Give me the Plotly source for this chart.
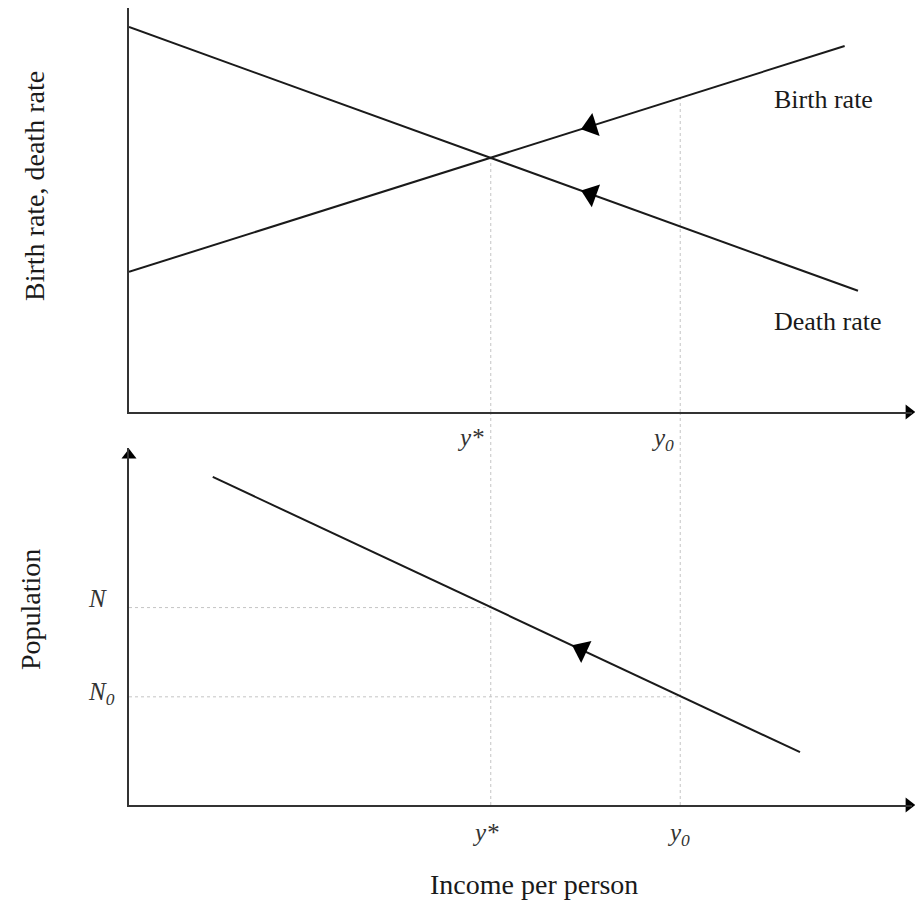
import math
import numpy as np
import plotly.graph_objects as go

# ---- data (arbitrary units) ----
death_x = [0, 93.1]
death_y = [95.3, 30.0]
birth_x = [0, 91.4]
birth_y = [34.7, 90.6]
pop_x = [10.7, 85.7]
pop_y = [91.9, 14.8]

y_star = 46.2      # equilibrium income
y_0 = 70.4         # initial income
N_star = 55.3      # equilibrium population
N_0 = 30.3         # initial population
arrow_top_x = 59.0
arrow_bot_x = 57.8

W, H = 915, 902
FONT = "Liberation Serif"
INK = "#1a1a1a"
GRID = "#c4c4c4"

# pixel layout
X0, X1 = 129, 912
TOP0, TOP1 = 412, 8
BOT0, BOT1 = 805, 448

def px(x):
    return x / W

def py(y):
    return 1 - y / H

XS = (X1 - X0) / 100.0
YS_TOP = (TOP0 - TOP1) / 100.0
YS_BOT = (BOT0 - BOT1) / 100.0

fig = go.Figure()

fig.add_trace(go.Scatter(x=death_x, y=death_y, mode="lines", xaxis="x", yaxis="y",
                         line=dict(color=INK, width=2), hoverinfo="skip"))
fig.add_trace(go.Scatter(x=birth_x, y=birth_y, mode="lines", xaxis="x", yaxis="y",
                         line=dict(color=INK, width=2), hoverinfo="skip"))
fig.add_trace(go.Scatter(x=pop_x, y=pop_y, mode="lines", xaxis="x2", yaxis="y2",
                         line=dict(color=INK, width=2), hoverinfo="skip"))


def line_arrow(xs, ys, xa, yscale, xaxis, yaxis):
    slope = (ys[1] - ys[0]) / (xs[1] - xs[0]) * yscale / XS
    ang = -math.degrees(math.atan(slope))
    return go.Scatter(x=[xa], y=[float(np.interp(xa, xs, ys))], mode="markers",
                      xaxis=xaxis, yaxis=yaxis, hoverinfo="skip", cliponaxis=False,
                      marker=dict(symbol="triangle-left", size=21, angle=ang, color="black",
                                  line=dict(width=0)))

fig.add_trace(line_arrow(birth_x, birth_y, arrow_top_x, YS_TOP, "x", "y"))
fig.add_trace(line_arrow(death_x, death_y, arrow_top_x, YS_TOP, "x", "y"))
fig.add_trace(line_arrow(pop_x, pop_y, arrow_bot_x, YS_BOT, "x2", "y2"))

# axis arrowheads
fig.add_trace(go.Scatter(x=[99.6], y=[0], mode="markers", xaxis="x", yaxis="y", cliponaxis=False,
                         hoverinfo="skip", marker=dict(symbol="triangle-right", size=13, color="black")))
fig.add_trace(go.Scatter(x=[99.6], y=[0], mode="markers", xaxis="x2", yaxis="y2", cliponaxis=False,
                         hoverinfo="skip", marker=dict(symbol="triangle-right", size=13, color="black")))
fig.add_trace(go.Scatter(x=[0], y=[98.0], mode="markers", xaxis="x2", yaxis="y2", cliponaxis=False,
                         hoverinfo="skip", marker=dict(symbol="triangle-up", size=13, color="black")))

y_int = float(np.interp(y_star, birth_x, birth_y))
y_birth0 = float(np.interp(y_0, birth_x, birth_y))

gl = dict(color=GRID, width=1, dash="dot")
shapes = [
    dict(type="line", xref="x", yref="y", x0=y_star, x1=y_star, y0=0, y1=y_int, line=gl, layer="below"),
    dict(type="line", xref="x", yref="y", x0=y_0, x1=y_0, y0=0, y1=y_birth0, line=gl, layer="below"),
    dict(type="line", xref="x2", yref="paper", x0=y_star, x1=y_star, y0=py(BOT0), y1=py(TOP0), line=gl, layer="below"),
    dict(type="line", xref="x2", yref="paper", x0=y_0, x1=y_0, y0=py(BOT0), y1=py(TOP0), line=gl, layer="below"),
    dict(type="line", xref="x2", yref="y2", x0=0, x1=y_star, y0=N_star, y1=N_star, line=gl, layer="below"),
    dict(type="line", xref="x2", yref="y2", x0=0, x1=y_0, y0=N_0, y1=N_0, line=gl, layer="below"),
]

tfont = dict(family=FONT, size=26, color=INK)
afont = dict(family=FONT, size=28, color=INK)
lfont = dict(family=FONT, size=25, color="#333")

ann = []
ann.append(dict(xref="paper", yref="paper", x=px(772), y=py(100), text="Birth rate",
                showarrow=False, xanchor="left", yanchor="middle", font=tfont))
ann.append(dict(xref="paper", yref="paper", x=px(772), y=py(322), text="Death rate",
                showarrow=False, xanchor="left", yanchor="middle", font=tfont))
ann.append(dict(xref="paper", yref="paper", x=px(35), y=py(186), text="Birth rate, death rate",
                showarrow=False, textangle=-90, xanchor="center", yanchor="middle", font=afont))
ann.append(dict(xref="paper", yref="paper", x=px(30), y=py(610), text="Population",
                showarrow=False, textangle=-90, xanchor="center", yanchor="middle", font=afont))
ann.append(dict(xref="paper", yref="paper", x=px(534), y=py(884), text="Income per person",
                showarrow=False, xanchor="center", yanchor="middle", font=afont))
ann.append(dict(xref="x", yref="y", x=y_star, y=0, text="<i>y*</i>", showarrow=False,
                xanchor="right", yanchor="top", xshift=-5, yshift=-10, font=lfont))
ann.append(dict(xref="x", yref="y", x=y_0, y=0, text="<i>y</i><sub><i>0</i></sub>", showarrow=False,
                xanchor="right", yanchor="top", xshift=-4, yshift=-10, font=lfont))
ann.append(dict(xref="x2", yref="y2", x=y_star, y=0, text="<i>y*</i>", showarrow=False,
                xanchor="center", yanchor="top", xshift=-5, yshift=-12, font=lfont))
ann.append(dict(xref="x2", yref="y2", x=y_0, y=0, text="<i>y</i><sub><i>0</i></sub>", showarrow=False,
                xanchor="center", yanchor="top", xshift=-2, yshift=-12, font=lfont))
ann.append(dict(xref="paper", yref="y2", x=px(86), y=N_star, text="<i>N</i>", showarrow=False,
                xanchor="left", yanchor="middle", yshift=9, font=lfont))
ann.append(dict(xref="paper", yref="y2", x=px(86), y=N_0, text="<i>N</i><sub><i>0</i></sub>", showarrow=False,
                xanchor="left", yanchor="middle", yshift=3, font=lfont))

axis_common = dict(showgrid=False, zeroline=False, showticklabels=False, ticks="",
                   showline=True, linecolor="#333", linewidth=2, fixedrange=True)

fig.update_layout(
    width=W, height=H,
    margin=dict(l=0, r=0, t=0, b=0),
    paper_bgcolor="white", plot_bgcolor="white",
    showlegend=False,
    xaxis=dict(domain=[px(X0), px(X1)], range=[0, 100], anchor="y", **axis_common),
    yaxis=dict(domain=[py(TOP0), py(TOP1)], range=[0, 100], anchor="x", **axis_common),
    xaxis2=dict(domain=[px(X0), px(X1)], range=[0, 100], anchor="y2", **axis_common),
    yaxis2=dict(domain=[py(BOT0), py(BOT1)], range=[0, 100], anchor="x2", **axis_common),
    shapes=shapes,
    annotations=ann,
)

fig.write_html("out.html", config={"displayModeBar": False},
               post_script="document.body.style.margin='0';document.body.style.overflow='hidden';")
